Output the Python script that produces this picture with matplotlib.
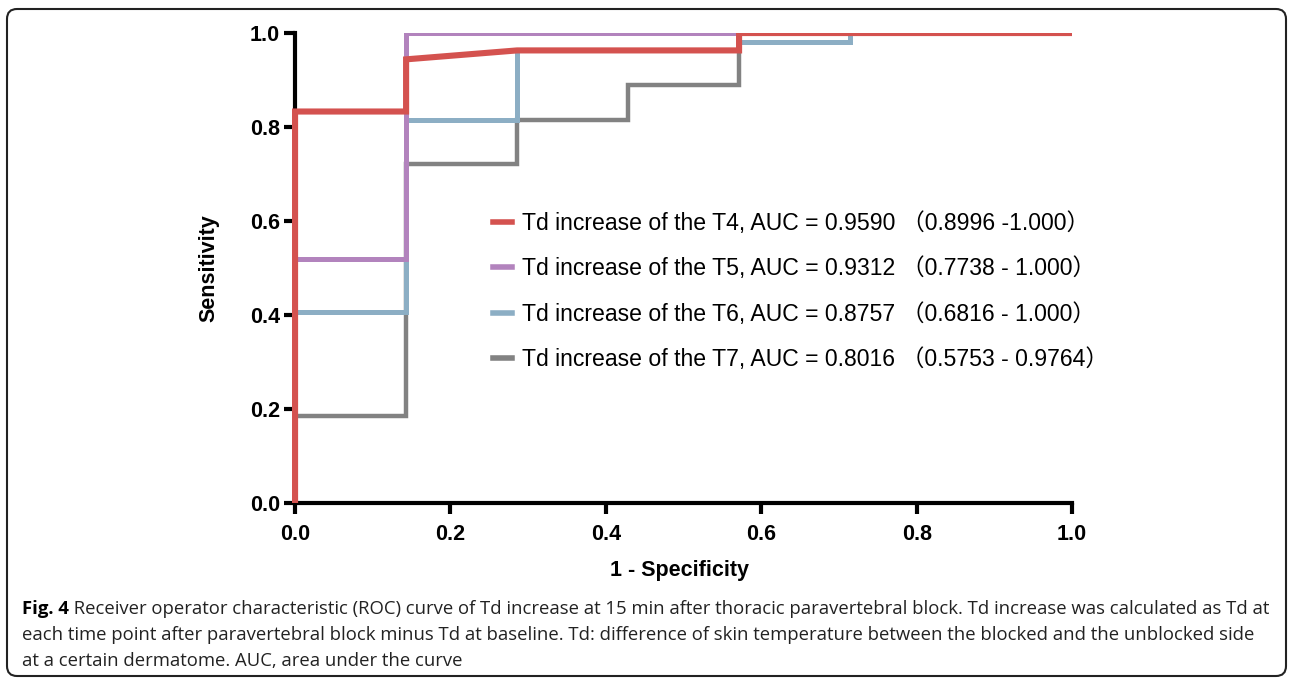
import matplotlib.pyplot as plt
from matplotlib.patches import FancyBboxPatch
from matplotlib.lines import Line2D

plt.rcParams['font.family'] = ['Liberation Sans', 'Noto Sans CJK SC', 'DejaVu Sans']

# ROC curves (1 - specificity, sensitivity)
t4_x = [0, 0, 0.1429, 0.1429, 0.2857, 0.5714, 0.5714, 1.0]
t4_y = [0, 0.833, 0.833, 0.944, 0.963, 0.963, 1.0, 1.0]
t5_x = [0, 0, 0.1429, 0.1429, 1.0]
t5_y = [0, 0.519, 0.519, 1.0, 1.0]
t6_x = [0, 0, 0.1429, 0.1429, 0.2857, 0.2857, 0.5714, 0.5714, 0.7143, 0.7143, 1.0]
t6_y = [0, 0.407, 0.407, 0.815, 0.815, 0.963, 0.963, 0.981, 0.981, 1.0, 1.0]
t7_x = [0, 0, 0.1429, 0.1429, 0.2857, 0.2857, 0.4286, 0.4286, 0.5714, 0.5714, 1.0]
t7_y = [0, 0.185, 0.185, 0.722, 0.722, 0.815, 0.815, 0.889, 0.889, 1.0, 1.0]

labels = ['Td increase of the T4, AUC = 0.9590 \uff080.8996 -1.000\uff09',
          'Td increase of the T5, AUC = 0.9312 \uff080.7738 - 1.000\uff09',
          'Td increase of the T6, AUC = 0.8757 \uff080.6816 - 1.000\uff09',
          'Td increase of the T7, AUC = 0.8016 \uff080.5753 - 0.9764\uff09']
colors = ['#d4524f', '#b283bd', '#8caec4', '#828282']
widths = [4.4, 3.6, 3.6, 3.2]

caption = [
    'Receiver operator characteristic (ROC) curve of Td increase at 15 min after thoracic paravertebral block. Td increase was calculated as Td at',
    'each time point after paravertebral block minus Td at baseline. Td: difference of skin temperature between the blocked and the unblocked side',
    'at a certain dermatome. AUC, area under the curve',
]

fig = plt.figure(figsize=(12.9, 6.81), dpi=100)
ax = fig.add_axes([0.2227, 0.2614, 0.6084, 0.6901])

ax.plot(t7_x, t7_y, color=colors[3], lw=widths[3], zorder=3, solid_joinstyle='miter')
ax.plot(t6_x, t6_y, color=colors[2], lw=widths[2], zorder=4, solid_joinstyle='miter')
ax.plot(t5_x, t5_y, color=colors[1], lw=widths[1], zorder=5, solid_joinstyle='miter')
ax.plot(t4_x, t4_y, color=colors[0], lw=widths[0], zorder=6, solid_joinstyle='miter')

ax.set_xlim(-0.01, 1.0)
ax.set_ylim(0, 1.0)
ax.spines['left'].set_position(('data', 0))
ax.spines['left'].set_bounds(0, 1)
ax.spines['bottom'].set_bounds(0, 1)
for s in ['top', 'right']:
    ax.spines[s].set_visible(False)
for s in ['left', 'bottom']:
    ax.spines[s].set_linewidth(3)

ticks = [0.0, 0.2, 0.4, 0.6, 0.8, 1.0]
ax.set_xticks(ticks)
ax.set_yticks(ticks)
ax.set_xticklabels(['%.1f' % t for t in ticks])
ax.set_yticklabels(['%.1f' % t for t in ticks])
ax.tick_params(axis='both', direction='out', length=8, width=3, labelsize=15.5)
ax.tick_params(axis='x', pad=7)
ax.tick_params(axis='y', pad=3)
for lab in ax.get_xticklabels() + ax.get_yticklabels():
    lab.set_fontweight('bold')

ax.set_xlabel('1 - Specificity', fontsize=15.5, fontweight='bold', labelpad=11)
ax.set_ylabel('Sensitivity', fontsize=15.5, fontweight='bold', labelpad=22)

handles = [Line2D([0], [0], color=c, lw=4) for c in colors]
ax.legend(handles, labels, loc='upper left', bbox_to_anchor=(0.236, 0.664),
          frameon=False, fontsize=16.6, handlelength=0.8, handletextpad=0.45,
          labelspacing=0.98)

# caption under the plot
cap_font = ['Open Sans', 'DejaVu Sans']
t = fig.text(22 / 1290, 1 - 614 / 681, 'Fig. 4', fontsize=13.3, fontweight='bold',
             family=cap_font, va='baseline')
ax.annotate(' ' + caption[0], xy=(1, 0), xycoords=t, va='bottom', fontsize=13.3,
            family=cap_font, color='#222222', annotation_clip=False)
for i, line in enumerate(caption[1:]):
    fig.text(22 / 1290, 1 - (640 + 26 * i) / 681, line, fontsize=13.3,
             family=cap_font, va='baseline', color='#222222')

frame = FancyBboxPatch((7, 5), 1279, 667, boxstyle='round,pad=0,rounding_size=10',
                       transform=None, fill=False, lw=1.5, edgecolor='#222222')
fig.patches.append(frame)

fig.savefig('out.png', dpi=100)
